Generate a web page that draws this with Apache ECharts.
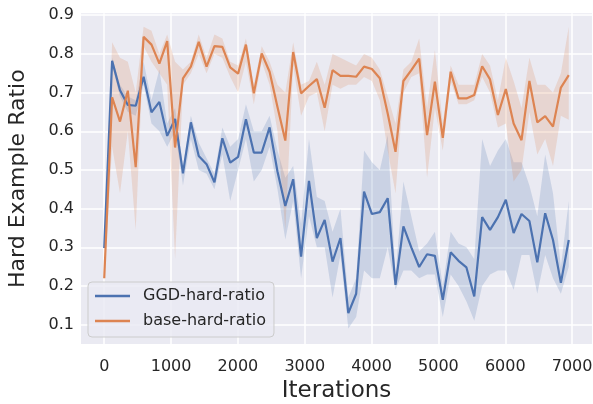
<!DOCTYPE html>
<html>
<head>
<meta charset="utf-8">
<script src="https://cdn.jsdelivr.net/npm/echarts@6/dist/echarts.min.js"></script>
<style>
html,body{margin:0;padding:0;background:#fff;}
#chart{width:593px;height:404px;}
</style>
</head>
<body>
<div id="chart"></div>
<script>
const iterations = [0,118,236,353,471,589,707,825,942,1060,1178,1296,1414,1531,1649,1767,1885,2003,2120,2238,2356,2474,2592,2709,2827,2945,3063,3181,3298,3416,3534,3652,3769,3887,4005,4123,4241,4358,4476,4594,4712,4830,4947,5065,5183,5301,5419,5536,5654,5772,5890,6008,6125,6243,6361,6479,6597,6714,6832,6950];

const ggd = [0.298,0.782,0.706,0.668,0.666,0.741,0.649,0.676,0.588,0.632,0.491,0.623,
  0.536,0.515,0.468,0.582,0.519,0.534,0.631,0.545,0.545,0.610,0.496,0.407,
  0.476,0.276,0.472,0.324,0.371,0.263,0.324,0.130,0.180,0.444,0.386,0.391,
  0.427,0.203,0.354,0.300,0.249,0.282,0.278,0.164,0.287,0.265,0.248,0.173,
  0.378,0.345,0.378,0.423,0.337,0.386,0.368,0.261,0.388,0.319,0.208,0.319];
const ggdLow = [0.29,0.77,0.69,0.65,0.64,0.72,0.62,0.60,0.56,0.60,0.46,0.58,
  0.50,0.49,0.45,0.54,0.42,0.50,0.58,0.47,0.50,0.56,0.45,0.32,
  0.42,0.22,0.38,0.30,0.30,0.17,0.28,0.09,0.12,0.24,0.22,0.22,
  0.30,0.19,0.24,0.24,0.22,0.23,0.23,0.12,0.23,0.20,0.16,0.11,
  0.20,0.23,0.24,0.24,0.19,0.28,0.28,0.18,0.28,0.22,0.18,0.25];
const ggdHigh = [0.31,0.79,0.72,0.69,0.68,0.78,0.68,0.76,0.62,0.66,0.51,0.64,
  0.57,0.53,0.49,0.61,0.56,0.58,0.67,0.60,0.60,0.64,0.55,0.48,
  0.51,0.36,0.58,0.43,0.42,0.34,0.40,0.17,0.22,0.55,0.52,0.50,
  0.59,0.23,0.47,0.38,0.29,0.31,0.34,0.20,0.34,0.31,0.30,0.27,
  0.58,0.51,0.55,0.58,0.52,0.52,0.46,0.38,0.54,0.44,0.25,0.42];

const base = [0.220,0.688,0.625,0.705,0.507,0.844,0.824,0.775,0.833,0.558,0.737,0.767,
  0.831,0.767,0.820,0.818,0.765,0.749,0.824,0.698,0.801,0.754,0.663,0.576,
  0.805,0.698,0.717,0.735,0.661,0.758,0.743,0.743,0.741,0.767,0.761,0.737,
  0.646,0.547,0.730,0.758,0.788,0.590,0.728,0.583,0.754,0.685,0.685,0.694,
  0.768,0.734,0.642,0.709,0.620,0.577,0.730,0.623,0.639,0.612,0.713,0.745];
const baseLow = [0.21,0.56,0.44,0.60,0.345,0.82,0.78,0.75,0.72,0.27,0.72,0.75,
  0.80,0.75,0.80,0.79,0.74,0.70,0.78,0.67,0.78,0.72,0.60,0.345,
  0.77,0.64,0.69,0.70,0.60,0.72,0.71,0.72,0.72,0.74,0.73,0.68,
  0.55,0.44,0.70,0.74,0.75,0.48,0.66,0.55,0.73,0.67,0.67,0.68,
  0.74,0.70,0.61,0.62,0.47,0.50,0.65,0.54,0.58,0.51,0.64,0.63];
const baseHigh = [0.23,0.83,0.79,0.78,0.70,0.87,0.86,0.80,0.85,0.78,0.76,0.78,
  0.85,0.79,0.85,0.84,0.78,0.77,0.84,0.72,0.82,0.78,0.72,0.70,
  0.83,0.72,0.73,0.78,0.72,0.80,0.79,0.78,0.77,0.80,0.79,0.76,
  0.69,0.62,0.76,0.78,0.84,0.66,0.81,0.62,0.77,0.72,0.72,0.72,
  0.80,0.77,0.68,0.79,0.73,0.66,0.79,0.72,0.72,0.70,0.75,0.87];

const xTicks = [0,1000,2000,3000,4000,5000,6000,7000];
const yTicks = [0.1,0.2,0.3,0.4,0.5,0.6,0.7,0.8,0.9];

const BLUE = '#4C72B0', ORANGE = '#DD8452';
const BLUE_BAND = 'rgba(76,114,176,0.2)', ORANGE_BAND = 'rgba(221,132,82,0.2)';
const TXT = '#262626';
const FONT = '"DejaVu Sans", sans-serif';

function pairs(ys){ return iterations.map((x,i)=>[x, ys[i]]); }

function bandSeries(name, lo, hi, fill){
  return {
    name: name, type:'custom', silent:true, z:1, clip:true,
    data: iterations.map((x,i)=>[x, lo[i], hi[i]]),
    encode:{x:0, y:[1,2]},
    renderItem:function(params, api){
      if (params.dataIndex !== 0) return null;
      const pts = [];
      for (let i = 0; i < iterations.length; i++) pts.push(api.coord([iterations[i], hi[i]]));
      for (let i = iterations.length - 1; i >= 0; i--) pts.push(api.coord([iterations[i], lo[i]]));
      return { type:'polygon', shape:{points:pts}, style:{fill:fill, stroke:null} };
    }
  };
}

const chart = echarts.init(document.getElementById('chart'), null, {renderer:'canvas'});
chart.setOption({
  animation:false,
  backgroundColor:'#ffffff',
  textStyle:{fontFamily:FONT},
  grid:{left:81, right:1, top:13.3, bottom:60, show:true, backgroundColor:'#EAEAF2', borderWidth:0,
    containLabel:false, outerBoundsMode:'none'},
  xAxis:{
    type:'value', min:-347.5, max:7297.5,
    name:'Iterations', nameLocation:'middle', nameGap:35,
    nameTextStyle:{fontSize:23, color:TXT, fontFamily:FONT},
    axisLine:{show:false},
    axisTick:{show:false, customValues:xTicks},
    axisLabel:{customValues:xTicks, fontSize:16, color:TXT, fontFamily:FONT, margin:15,
      formatter:(v)=>String(v)},
    splitLine:{show:true, lineStyle:{color:'#ffffff', width:1.5}}
  },
  yAxis:{
    type:'value', min:0.05, max:0.905,
    name:'Hard Example Ratio', nameLocation:'middle', nameGap:52,
    nameTextStyle:{fontSize:22, color:TXT, fontFamily:FONT},
    axisLine:{show:false},
    axisTick:{show:false, customValues:yTicks},
    axisLabel:{customValues:yTicks, fontSize:16, color:TXT, fontFamily:FONT, margin:7,
      formatter:(v)=>v.toFixed(1)},
    splitLine:{show:true, lineStyle:{color:'#ffffff', width:1.5}}
  },
  legend:{
    data:[{name:'GGD-hard-ratio', icon:'rect'},{name:'base-hard-ratio', icon:'rect'}],
    orient:'vertical', left:88, top:282,
    backgroundColor:'rgba(234,234,242,0.8)', borderColor:'#cccccc', borderWidth:1, borderRadius:4,
    padding:[5,8,7,7], itemWidth:35, itemHeight:2.5, itemGap:7,
    textStyle:{fontSize:16, color:TXT, fontFamily:FONT, padding:[0,0,0,8], lineHeight:18}
  },
  series:[
    bandSeries('ggd-band', ggdLow, ggdHigh, BLUE_BAND),
    bandSeries('base-band', baseLow, baseHigh, ORANGE_BAND),
    { name:'GGD-hard-ratio', type:'line', data:pairs(ggd), symbol:'none', showSymbol:false,
      lineStyle:{color:BLUE, width:2.2}, itemStyle:{color:BLUE}, z:3 },
    { name:'base-hard-ratio', type:'line', data:pairs(base), symbol:'none', showSymbol:false,
      lineStyle:{color:ORANGE, width:2.2}, itemStyle:{color:ORANGE}, z:4 }
  ]
});
</script>
</body>
</html>
